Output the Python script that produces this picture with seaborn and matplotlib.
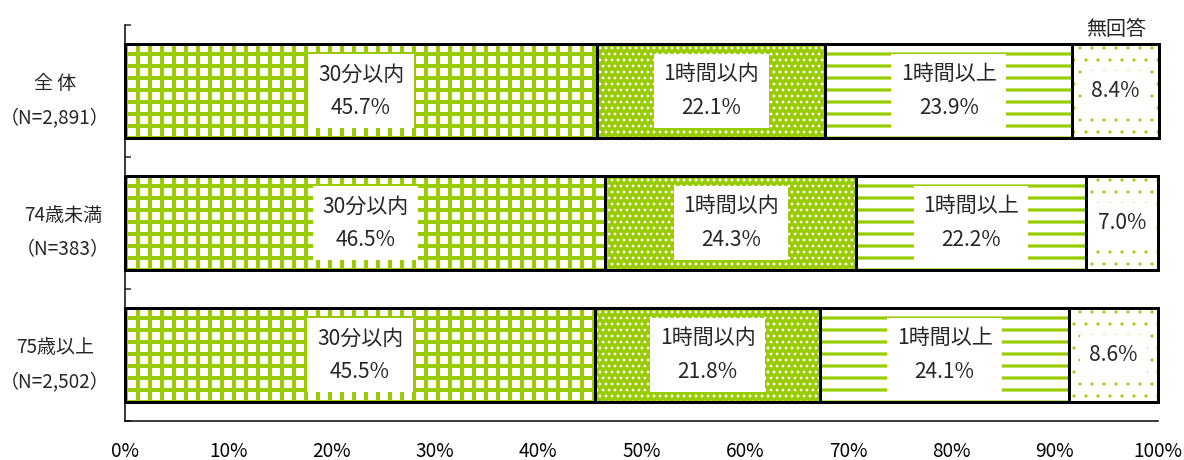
import matplotlib
matplotlib.use("Agg")
import matplotlib.pyplot as plt
import numpy as np
import pandas as pd
import seaborn as sns
from matplotlib.ticker import FixedLocator, FuncFormatter

# ---- data -------------------------------------------------------------
groups = ["全 体\n（N=2,891）", "74歳未満\n（N=383）", "75歳以上\n（N=2,502）"]
answers = ["30分以内", "1時間以内", "1時間以上", "無回答"]
within_30min = [45.7, 46.5, 45.5]
within_1hour = [22.1, 24.3, 21.8]
over_1hour = [23.9, 22.2, 24.1]
no_answer = [8.4, 7.0, 8.6]
x_ticks = [0, 10, 20, 30, 40, 50, 60, 70, 80, 90, 100]

series = [within_30min, within_1hour, over_1hour, no_answer]

# ---- style ------------------------------------------------------------
GREEN = "#99CC00"
# face colour, hatch colour, hatch pattern, hatch line width
seg_styles = [
    ("white", GREEN, "+", 4.0),
    (GREEN, "white", "..", 1.6),
    ("white", GREEN, "-", 3.2),
    ("white", GREEN, ".", 0.6),
]
BAR_H = 0.712
FS = 21

sns.set_style("white")
plt.rcParams["font.family"] = ["Noto Sans CJK JP", "DejaVu Sans"]

DPI = 72
fig = plt.figure(figsize=(1184 / DPI, 460 / DPI), dpi=DPI)
ax = fig.add_axes([125 / 1184, 1 - 421 / 460, 1033 / 1184, 396 / 460])

vals = np.array(series)            # shape (segments, groups)
cum = np.cumsum(vals, axis=0)      # right edge of each segment
starts = cum - vals

# stacked bars: draw cumulative totals from the longest down,
# each layer covering the one before it
for j in range(len(series) - 1, -1, -1):
    face, hcol, hatch, hlw = seg_styles[j]
    df = pd.DataFrame({"group": groups, "value": cum[j]})
    before = len(ax.patches)
    with plt.rc_context({"hatch.linewidth": hlw}):
        sns.barplot(data=df, x="value", y="group", orient="h",
                    width=BAR_H, saturation=1, errorbar=None,
                    color=face, ax=ax)
        for p in ax.patches[before:]:
            p.set_facecolor(face)
            p.set_edgecolor(hcol)
            p.set_linewidth(0)
            p.set_hatch(hatch)
            if hasattr(p, "set_hatch_linewidth"):
                p.set_hatch_linewidth(hlw)
            p.set_clip_on(False)

# black outlines for every segment boundary
for j in range(len(series)):
    df = pd.DataFrame({"group": groups, "value": cum[j]})
    before = len(ax.patches)
    sns.barplot(data=df, x="value", y="group", orient="h",
                width=BAR_H, saturation=1, errorbar=None,
                color="black", fill=False, ax=ax)
    for p in ax.patches[before:]:
        p.set_facecolor("none")
        p.set_edgecolor("black")
        p.set_linewidth(3)
        p.set_hatch(None)
        p.set_clip_on(False)
        p.set_zorder(3)

# segment labels on white boxes
for i in range(len(groups)):
    for j in range(len(series)):
        v = vals[j, i]
        xc = starts[j, i] + v / 2
        txt = f"{v:.1f}%" if j == len(series) - 1 else f"{answers[j]}\n{v:.1f}%"
        ax.text(xc, i, txt, ha="center", va="center", fontsize=FS,
                multialignment="center", linespacing=1.65, zorder=5,
                bbox=dict(boxstyle="square,pad=0.45", facecolor="white",
                          edgecolor="none"))

# "無回答" heading above the last segment of the first bar
ax.annotate(answers[-1], xy=(starts[-1, 0] + vals[-1, 0] / 2, -BAR_H / 2),
            xytext=(0, 4), textcoords="offset points", ha="center",
            va="bottom", fontsize=FS - 1, annotation_clip=False)

# ---- axes -------------------------------------------------------------
ax.set_xlim(0, 100)
ax.set_ylim(2.5, -0.5)
ax.set_xlabel("")
ax.set_ylabel("")

ax.xaxis.set_major_locator(FixedLocator(x_ticks))
ax.xaxis.set_major_formatter(FuncFormatter(lambda v, _: f"{v:.0f}%"))
ax.tick_params(axis="x", direction="in", length=7, width=1.5,
               pad=20, labelsize=FS - 2, colors="black")

ax.set_yticks(range(len(groups)))
ax.set_yticklabels(groups, multialignment="center", linespacing=1.85,
                   fontsize=FS - 2)
ax.tick_params(axis="y", which="major", length=0, pad=15)
ax.yaxis.set_minor_locator(FixedLocator([-0.5, 0.5, 1.5, 2.5]))
ax.tick_params(axis="y", which="minor", direction="in", length=6,
               width=1.5, left=True)

for side in ("top", "right"):
    ax.spines[side].set_visible(False)
for side in ("left", "bottom"):
    ax.spines[side].set_color("black")
    ax.spines[side].set_linewidth(1.5)

fig.savefig("out.png", dpi=DPI, facecolor="white")
